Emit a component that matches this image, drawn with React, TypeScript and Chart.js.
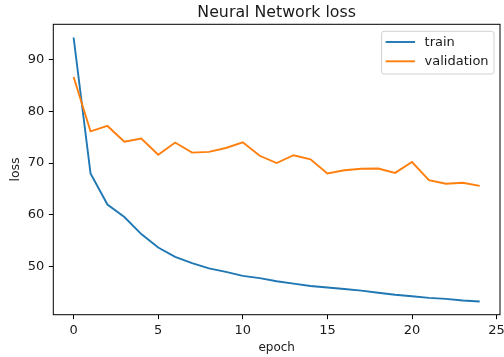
import { useEffect, useRef } from 'react';
import { Chart, registerables } from 'chart.js';

Chart.register(...registerables);

const epochs = [0, 1, 2, 3, 4, 5, 6, 7, 8, 9, 10, 11, 12, 13, 14, 15, 16, 17, 18, 19, 20, 21, 22, 23, 24];
const trainLoss = [94.2, 68.0, 62.0, 59.6, 56.3, 53.7, 51.9, 50.7, 49.7, 49.0, 48.25, 47.8, 47.2, 46.75, 46.3, 46.0, 45.7, 45.4, 45.0, 44.6, 44.3, 44.0, 43.8, 43.5, 43.3];
const validationLoss = [86.6, 76.1, 77.15, 74.1, 74.7, 71.6, 73.95, 72.0, 72.15, 72.9, 74.0, 71.4, 70.0, 71.5, 70.7, 68.0, 68.6, 68.9, 68.95, 68.1, 70.2, 66.7, 66.0, 66.2, 65.6];
const xTicks = [0, 5, 10, 15, 20, 25];
const yTicks = [50, 60, 70, 80, 90];
const seriesLabels = ['train', 'validation'];
const seriesColors = ['#1f77b4', '#ff7f0e'];
const chartTitle = 'Neural Network loss';
const xLabel = 'epoch';
const yLabel = 'loss';

const FONT = "'DejaVu Sans', 'Liberation Sans', sans-serif";
const TEXT = '#1a1a1a';

function margins(vals: number[]) {
  const lo = Math.min(...vals);
  const hi = Math.max(...vals);
  const pad = (hi - lo) * 0.05;
  return { min: lo - pad, max: hi + pad };
}

const decorPlugin = {
  id: 'mplDecor',
  afterDatasetsDraw(chart: any) {
    const { ctx, chartArea } = chart;
    const { left, top, right, bottom } = chartArea;
    ctx.save();
    // frame (all four spines)
    ctx.strokeStyle = '#000';
    ctx.lineWidth = 1;
    ctx.strokeRect(left, top, right - left, bottom - top);

    // title
    ctx.fillStyle = TEXT;
    ctx.font = `15.8px ${FONT}`;
    ctx.textAlign = 'center';
    ctx.textBaseline = 'alphabetic';
    ctx.fillText(chartTitle, (left + right) / 2, 16.5);

    // legend
    ctx.font = `13px ${FONT}`;
    const textW = Math.max(...seriesLabels.map((s) => ctx.measureText(s).width));
    const padL = 4;
    const handle = 29.4;
    const gap = 9.6;
    const padR = 5.4;
    const boxW = padL + handle + gap + textW + padR;
    const boxH = 42.7;
    const bx = right - 6 - boxW;
    const by = top + 7;
    const r = 2.5;
    ctx.beginPath();
    ctx.moveTo(bx + r, by);
    ctx.lineTo(bx + boxW - r, by);
    ctx.quadraticCurveTo(bx + boxW, by, bx + boxW, by + r);
    ctx.lineTo(bx + boxW, by + boxH - r);
    ctx.quadraticCurveTo(bx + boxW, by + boxH, bx + boxW - r, by + boxH);
    ctx.lineTo(bx + r, by + boxH);
    ctx.quadraticCurveTo(bx, by + boxH, bx, by + boxH - r);
    ctx.lineTo(bx, by + r);
    ctx.quadraticCurveTo(bx, by, bx + r, by);
    ctx.closePath();
    ctx.fillStyle = 'rgba(255,255,255,0.8)';
    ctx.fill();
    ctx.strokeStyle = 'rgba(204,204,204,0.9)';
    ctx.lineWidth = 1;
    ctx.stroke();

    seriesLabels.forEach((label, i) => {
      const yy = by + 10.7 + i * 19.3;
      ctx.strokeStyle = seriesColors[i];
      ctx.lineWidth = 1.9;
      ctx.beginPath();
      ctx.moveTo(bx + padL, yy);
      ctx.lineTo(bx + padL + handle, yy);
      ctx.stroke();
      ctx.fillStyle = TEXT;
      ctx.textAlign = 'left';
      ctx.textBaseline = 'middle';
      ctx.fillText(label, bx + padL + handle + gap, yy + 0.5);
    });
    ctx.restore();
  },
};

export default function App() {
  const ref = useRef<HTMLCanvasElement | null>(null);

  useEffect(() => {
    if (!ref.current) return;
    const yr = margins([...trainLoss, ...validationLoss]);
    const xr = margins(epochs.map((e) => e));
    const chart = new Chart(ref.current, {
      type: 'line',
      data: {
        datasets: [
          {
            label: seriesLabels[0],
            data: epochs.map((e, i) => ({ x: e, y: trainLoss[i] })),
            borderColor: seriesColors[0],
            backgroundColor: seriesColors[0],
            borderWidth: 1.9,
            pointRadius: 0,
            tension: 0,
            order: 1,
          },
          {
            label: seriesLabels[1],
            data: epochs.map((e, i) => ({ x: e, y: validationLoss[i] })),
            borderColor: seriesColors[1],
            backgroundColor: seriesColors[1],
            borderWidth: 1.9,
            pointRadius: 0,
            tension: 0,
            order: 0,
          },
        ],
      },
      options: {
        animation: false,
        responsive: false,
        devicePixelRatio: 1,
        layout: { padding: { left: 0, right: 4, top: 24.3, bottom: 0 } },
        plugins: {
          legend: { display: false },
          title: { display: false },
          tooltip: { enabled: false },
        },
        scales: {
          x: {
            type: 'linear',
            min: xr.min,
            max: xr.max,
            afterBuildTicks: (s: any) => {
              s.ticks = xTicks.map((v) => ({ value: v }));
            },
            afterFit: (s: any) => {
              s.height = 42.3;
              s.paddingLeft = 0;
              s.paddingRight = 0;
            },
            grid: {
              drawOnChartArea: false,
              drawTicks: true,
              tickLength: 4.5,
              tickColor: '#000',
              tickWidth: 1,
            },
            border: { display: false },
            ticks: {
              color: TEXT,
              padding: 3.5,
              maxRotation: 0,
              font: { family: FONT, size: 13 },
              callback: (v: any) => String(v),
            },
            title: {
              display: true,
              text: xLabel,
              color: TEXT,
              font: { family: FONT, size: 12 },
              padding: { top: 0, bottom: 1.6 },
            },
          },
          y: {
            type: 'linear',
            min: yr.min,
            max: yr.max,
            afterBuildTicks: (s: any) => {
              s.ticks = yTicks.map((v) => ({ value: v }));
            },
            afterFit: (s: any) => {
              s.width = 53.3;
              s.paddingTop = 0;
              s.paddingBottom = 0;
            },
            grid: {
              drawOnChartArea: false,
              drawTicks: true,
              tickLength: 4.5,
              tickColor: '#000',
              tickWidth: 1,
            },
            border: { display: false },
            ticks: {
              color: TEXT,
              padding: 4.5,
              font: { family: FONT, size: 13 },
              callback: (v: any) => String(v),
            },
            title: {
              display: true,
              text: yLabel,
              color: TEXT,
              font: { family: FONT, size: 12.5 },
              padding: { top: 8.2, bottom: 0 },
            },
          },
        },
      },
      plugins: [decorPlugin],
    });
    return () => chart.destroy();
  }, []);

  return (
    <div style={{ position: 'absolute', left: 0, top: 0, width: 504, height: 357, background: '#fff' }}>
      <canvas ref={ref} width={504} height={357} style={{ width: 504, height: 357, display: 'block' }} />
    </div>
  );
}
